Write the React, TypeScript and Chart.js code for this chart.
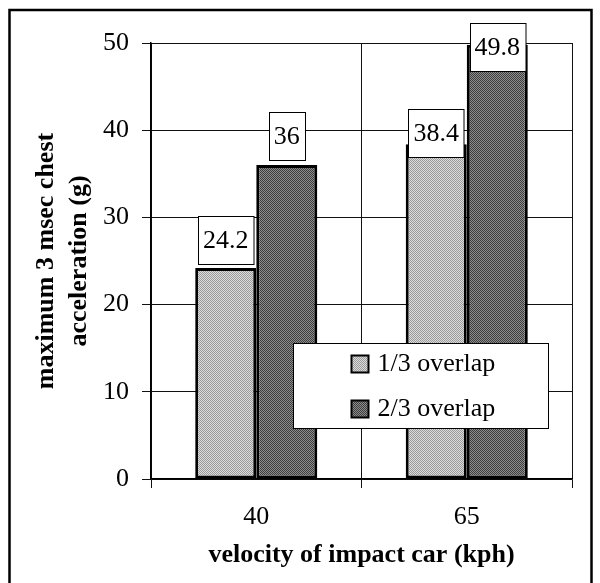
import React, { useEffect, useRef } from 'react';
import { Chart, registerables } from 'chart.js';
Chart.register(...registerables);

const categories = ['40', '65'];
const seriesNames = ['1/3 overlap', '2/3 overlap'];
const overlap13 = [24.2, 38.4];
const overlap23 = [36, 49.8];
const yTickValues = [0, 10, 20, 30, 40, 50];
const labelLift13 = [28, 11];
const labelLift23 = [29, -2];

const FONT = '"Liberation Serif", "Times New Roman", Times, serif';

function makePattern(ctx: CanvasRenderingContext2D, base: string, dot: string) {
  const c = document.createElement('canvas');
  c.width = 4;
  c.height = 4;
  const g = c.getContext('2d')!;
  g.fillStyle = base;
  g.fillRect(0, 0, 4, 4);
  g.fillStyle = dot;
  for (let y = 0; y < 4; y++) {
    for (let x = 0; x < 4; x++) {
      if ((x + y) % 2 === 0) g.fillRect(x, y, 1, 1);
    }
  }
  return ctx.createPattern(c, 'repeat')!;
}

export default function App() {
  const ref = useRef<HTMLCanvasElement>(null);

  useEffect(() => {
    document.body.style.margin = '0';
    const canvas = ref.current!;
    const ctx = canvas.getContext('2d')!;
    const lightPat = makePattern(ctx, '#dcdcdc', '#9a9a9a');
    const darkPat = makePattern(ctx, '#8c8c8c', '#3e3e3e');
    const lifts = [labelLift13, labelLift23];

    const framePlugin = {
      id: 'frame',
      beforeDraw(chart: any) {
        const c = chart.ctx;
        c.save();
        c.fillStyle = '#ffffff';
        c.fillRect(0, 0, chart.width, chart.height);
        c.strokeStyle = '#000';
        c.lineWidth = 2.5;
        c.strokeRect(9.5, 10, 582, 620);
        c.restore();
      },
    };

    const labelPlugin = {
      id: 'boxLabels',
      afterDatasetsDraw(chart: any) {
        const c = chart.ctx;
        c.save();
        c.font = `26px ${FONT}`;
        c.textAlign = 'center';
        c.textBaseline = 'middle';
        chart.data.datasets.forEach((ds: any, di: number) => {
          const meta = chart.getDatasetMeta(di);
          meta.data.forEach((el: any, i: number) => {
            const txt = String(ds.data[i]);
            const w = c.measureText(txt).width + 10;
            const h = 48;
            const cy = el.y - lifts[di][i] - h / 2 + 24 - 24;
            const cyc = el.y - lifts[di][i];
            const x0 = Math.round(el.x - w / 2) + 0.5;
            const y0 = Math.round(cyc - h / 2) + 0.5;
            c.fillStyle = '#fff';
            c.fillRect(x0, y0, w, h);
            c.strokeStyle = '#000';
            c.lineWidth = 1;
            c.strokeRect(x0, y0, w, h);
            c.fillStyle = '#000';
            c.fillText(txt, el.x, cyc + 1);
            void cy;
          });
        });
        c.restore();
      },
    };

    const legendPlugin = {
      id: 'innerLegend',
      afterDraw(chart: any) {
        const c = chart.ctx;
        const ca = chart.chartArea;
        const left = Math.round(ca.left + ca.width * 0.338) + 0.5;
        const right = Math.round(ca.right - 24) + 0.5;
        const top = Math.round(ca.bottom - 136) + 0.5;
        const bottom = Math.round(ca.bottom - 51) + 0.5;
        c.save();
        c.fillStyle = '#fff';
        c.fillRect(left, top, right - left, bottom - top);
        c.strokeStyle = '#000';
        c.lineWidth = 1;
        c.strokeRect(left, top, right - left, bottom - top);
        c.font = `26px ${FONT}`;
        c.textAlign = 'left';
        c.textBaseline = 'middle';
        chart.data.datasets.forEach((ds: any, i: number) => {
          const cy = top + 20 + i * 45;
          const sx = left + 58;
          c.fillStyle = ds.backgroundColor;
          c.fillRect(sx, cy - 8, 17, 17);
          c.strokeStyle = '#000';
          c.lineWidth = 2;
          c.strokeRect(sx, cy - 8, 17, 17);
          c.fillStyle = '#000';
          c.fillText(ds.label, sx + 26, cy + 1);
        });
        c.restore();
      },
    };

    const chart = new Chart(canvas, {
      type: 'bar',
      data: {
        labels: categories,
        datasets: [
          {
            label: seriesNames[0],
            data: overlap13,
            backgroundColor: lightPat as any,
            borderColor: '#000',
            borderWidth: 3,
            borderSkipped: false,
            categoryPercentage: 0.58,
            barPercentage: 1,
          },
          {
            label: seriesNames[1],
            data: overlap23,
            backgroundColor: darkPat as any,
            borderColor: '#000',
            borderWidth: 3,
            borderSkipped: false,
            categoryPercentage: 0.58,
            barPercentage: 1,
          },
        ],
      },
      options: {
        responsive: false,
        animation: false,
        layout: { padding: { left: 0, top: 43, right: 28, bottom: 0 } },
        plugins: {
          legend: { display: false },
          tooltip: { enabled: false },
        },
        scales: {
          x: {
            offset: true,
            grid: {
              offset: true,
              color: '#111',
              lineWidth: 1,
              drawTicks: true,
              tickLength: 9,
            },
            border: { display: true, color: '#000', width: 1.5 },
            ticks: {
              color: '#000',
              font: { family: FONT, size: 26 },
              padding: 14,
            },
            title: {
              display: true,
              text: 'velocity of impact car (kph)',
              color: '#000',
              font: { family: FONT, size: 26, weight: 'bold' },
              padding: { top: 0, bottom: 12 },
            },
            afterFit(scale: any) {
              scale.height = 104;
            },
          },
          y: {
            min: 0,
            max: 50,
            afterBuildTicks(scale: any) {
              scale.ticks = yTickValues.map((v) => ({ value: v }));
            },
            grid: {
              color: '#111',
              lineWidth: 1,
              drawTicks: true,
              tickLength: 9,
            },
            border: { display: true, color: '#000', width: 1.5 },
            ticks: {
              color: '#000',
              font: { family: FONT, size: 26 },
              padding: 13,
            },
            title: {
              display: true,
              text: ['maximum 3 msec chest', 'acceleration (g)'],
              color: '#000',
              font: { family: FONT, size: 26, weight: 'bold', lineHeight: 1.3 },
              padding: { top: 29, bottom: 0 },
            },
            afterFit(scale: any) {
              scale.width = 151;
            },
          },
        },
      },
      plugins: [framePlugin, labelPlugin, legendPlugin],
    });
    return () => chart.destroy();
  }, []);

  return <canvas ref={ref} width={600} height={583} style={{ display: 'block' }} />;
}
